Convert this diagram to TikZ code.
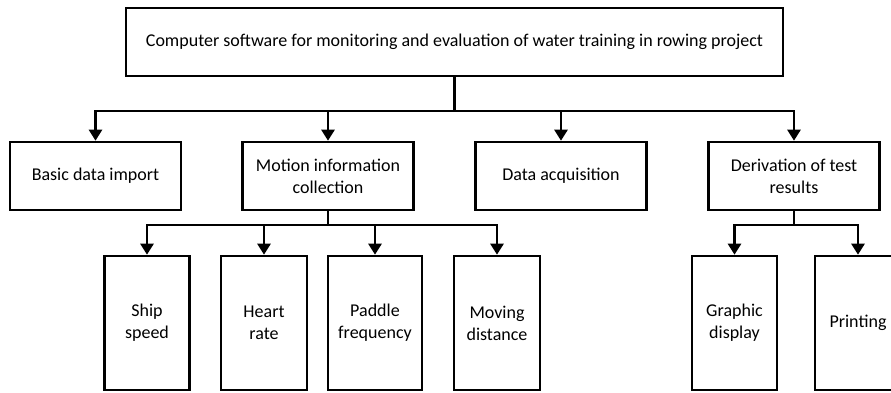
\documentclass[tikz,border=0pt]{standalone}
\usepackage{fontspec}
\setmainfont{Carlito}
\usepackage{tikz}
\usetikzlibrary{arrows.meta,positioning,calc}

\begin{document}
\begin{tikzpicture}[x=1pt, y=-1pt,
          box/.style={draw, line width=2.6pt, minimum width=171pt, minimum height=68pt,
                      align=center, inner sep=2pt, font=\fontsize{18}{22}\selectfont},
          leaf/.style={box, minimum width=85pt, minimum height=134pt},
          arr/.style={-{Triangle[length=11pt, width=13pt]}, line width=2.6pt}
        ]
          \useasboundingbox (0,0) rectangle (891,392);
          \node[box, minimum width=657pt] (top) at (454.5,42) {Computer software for monitoring and evaluation of water training in rowing project};
          % first level
          \node[box] (basic) at (95.5,176) {Basic data import};
          \node[box] (motion) at (328,176) {Motion information\\collection};
          \node[box] (data) at (561,176) {Data acquisition};
          \node[box] (deriv) at (794,176) {Derivation of test\\results};
          % second level
          \node[leaf] (ship) at (147,323) {Ship\\speed};
          \node[leaf, minimum width=86pt] (heart) at (264,323) {Heart\\rate};
          \node[leaf, minimum width=94pt] (paddle) at (375,323) {Paddle\\frequency};
          \node[leaf, minimum width=86pt] (moving) at (497,323) {Moving\\distance};
          \node[leaf] (graphic) at (734.5,323) {Graphic\\display};
          \node[leaf, minimum width=86pt] (printing) at (858,323) {Printing};
          % connectors
          \coordinate (bus) at (454.5,111);
          \coordinate (mbus) at (328,225);
          \coordinate (dbus) at (794,225);
          \foreach \n in {basic,motion,data,deriv}
            \draw[arr] (top) -- (bus) -| (\n);
          \foreach \n in {ship,heart,paddle,moving}
            \draw[arr] (motion) -- (mbus) -| (\n);
          \foreach \n in {graphic,printing}
            \draw[arr] (deriv) -- (dbus) -| (\n);
        \end{tikzpicture}
\end{document}
